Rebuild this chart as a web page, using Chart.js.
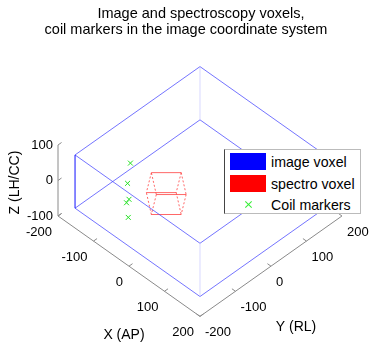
<!DOCTYPE html>
<html>
<head>
<meta charset="utf-8">
<script src="https://cdn.jsdelivr.net/npm/chart.js@4"></script>
<style>
  body { margin: 0; background: #fff; font-family: "Liberation Sans", Arial, sans-serif; color: #000; }
  #wrap { position: relative; width: 369px; height: 349px; overflow: hidden; }
  #plot { position: absolute; left: 0; top: 0; }
  .title { position: absolute; font-size: 14.5px; line-height: 16px; white-space: nowrap; transform: translateX(-50%); }
  #legend { position: absolute; left: 224px; top: 149px; width: 137px; height: 65px; background: #fff;
            border: 1px solid #bbb; border-left-color: #444; box-sizing: border-box; font-size: 14.2px; }
  #legend .row { position: absolute; left: 0; height: 18px; line-height: 18px; width: 100%; }
  #legend .swatch { position: absolute; left: 5px; top: 0; width: 36px; height: 17px; }
  #legend .label { position: absolute; left: 46px; top: 0; white-space: nowrap; }
  #legend .cross { position: absolute; left: 20px; top: 5px; width: 7px; height: 7px; }
  #legend .cross::before, #legend .cross::after { content: ""; position: absolute; left: -1px; top: 3px; width: 9px; height: 1px; background: #3e3; }
  #legend .cross::before { transform: rotate(45deg); }
  #legend .cross::after { transform: rotate(-45deg); }
</style>
</head>
<body>
<div id="wrap">
  <canvas id="plot" width="369" height="349"></canvas>
  <div class="title" style="left:201px; top:5px;">Image and spectroscopy voxels,</div>
  <div class="title" style="left:186px; top:21px;">coil markers in the image coordinate system</div>
  <div id="legend">
    <div class="row" style="top:3px;"><span class="swatch" style="background:#0000ff;"></span><span class="label">image voxel</span></div>
    <div class="row" style="top:25px;"><span class="swatch" style="background:#ff0000;"></span><span class="label">spectro voxel</span></div>
    <div class="row" style="top:46px;"><span class="cross"></span><span class="label">Coil markers</span></div>
  </div>
</div>
<script>
// axis limits and ticks
const xLim = [-200, 200];
const yLim = [-200, 200];
const zLim = [-100, 100];
const xTicks = [-200, -100, 0, 100, 200];
const yTicks = [-200, -100, 0, 100, 200];
const zTicks = [-100, 0, 100];

// image voxel corners: 0-3 lower face, 4-7 upper face
const imageX = [-176, 176, 176, -176, -176, 176, 176, -176];
const imageY = [-176, -176, 176, 176, -176, -176, 176, 176];
const imageZ = [-78, -78, -78, -78, 72, 72, 72, 72];

// spectro voxel corners, same ordering
const spectroX = [-66.5, -24.5, 12, -30, -62, -20, 16.5, -25.5];
const spectroY = [-70.5, -28.5, -51, -93, -89, -47, -69.5, -111.5];
const spectroZ = [25, 25, 5, 5, -15, -15, -35, -35];

// coil marker positions
const coilX = [-98, -102, -100, -103, -101];
const coilY = [-98, -102, -100, -104, -101];
const coilZ = [49, -8, -53, -62, -104];

// corner pairs making up a box
const boxEdges = [[0, 1], [1, 2], [2, 3], [3, 0], [4, 5], [5, 6], [6, 7], [7, 4], [0, 4], [1, 5], [2, 6], [3, 7]];

const viewAz = 45, viewEl = 45;
const rad = Math.PI / 180;

function project(x, y, z) {
  const a = viewAz * rad, e = viewEl * rad;
  return {
    x: x * Math.sin(a) + y * Math.cos(a),
    y: z * Math.cos(e) - (x * Math.cos(a) - y * Math.sin(a)) * Math.sin(e)
  };
}

function edgePoints(xs, ys, zs) {
  const pts = [];
  boxEdges.forEach(([a, b]) => {
    pts.push(project(xs[a], ys[a], zs[a]), project(xs[b], ys[b], zs[b]), { x: null, y: null });
  });
  return pts;
}

function segmentsOf(list) {
  const pts = [];
  list.forEach(([p, q]) => pts.push(project(...p), project(...q), { x: null, y: null }));
  return pts;
}

// plot box axes and their tick marks
const tickLen = 10;
const axisLines = segmentsOf([
  [[xLim[0], yLim[0], zLim[0]], [xLim[1], yLim[0], zLim[0]]],
  [[xLim[1], yLim[0], zLim[0]], [xLim[1], yLim[1], zLim[0]]],
  [[xLim[0], yLim[0], zLim[0]], [xLim[0], yLim[0], zLim[1]]]
]);
const tickMarks = segmentsOf([
  ...xTicks.map(t => [[t, yLim[0], zLim[0]], [t, yLim[0] + tickLen, zLim[0]]]),
  ...yTicks.map(t => [[xLim[1], t, zLim[0]], [xLim[1] - tickLen, t, zLim[0]]]),
  ...zTicks.map(t => [[xLim[0], yLim[0], t], [xLim[0], yLim[0] + tickLen, t]])
]);

const coilPoints = coilX.map((x, i) => project(x, coilY[i], coilZ[i]));

const frontEdge = boxEdges.findIndex(e => e[0] === 0 && e[1] === 4);
const steep = c => Math.abs(c.p1.y - c.p0.y) > Math.abs(c.p1.x - c.p0.x);

const axisText = {
  id: 'axisText',
  afterDatasetsDraw(chart) {
    const { ctx, scales: { x, y } } = chart;
    const at = (X, Y, Z) => {
      const p = project(X, Y, Z);
      return { x: x.getPixelForValue(p.x), y: y.getPixelForValue(p.y) };
    };
    ctx.save();
    ctx.fillStyle = '#000';
    ctx.textBaseline = 'middle';
    ctx.font = '13px "Liberation Sans", Arial, sans-serif';

    ctx.textAlign = 'right';
    xTicks.forEach(t => { const p = at(t, yLim[0], zLim[0]); ctx.fillText(String(t), p.x - 6, p.y + 16.5); });
    zTicks.forEach(t => { const p = at(xLim[0], yLim[0], t); ctx.fillText(String(t), p.x - 5, p.y); });
    ctx.textAlign = 'left';
    yTicks.forEach(t => { const p = at(xLim[1], t, zLim[0]); ctx.fillText(String(t), p.x + 5, p.y + 16.5); });

    ctx.font = '14px "Liberation Sans", Arial, sans-serif';
    ctx.textAlign = 'center';
    let p = at(0, yLim[0], zLim[0]);
    ctx.fillText('X (AP)', p.x - 5, p.y + 68.5);
    p = at(xLim[1], 0, zLim[0]);
    ctx.fillText('Y (RL)', p.x + 25, p.y + 60.5);
    p = at(xLim[0], yLim[0], 0);
    ctx.translate(p.x - 43, p.y + 2);
    ctx.rotate(-Math.PI / 2);
    ctx.fillText('Z (LH/CC)', 0, 0);
    ctx.restore();
  }
};

new Chart(document.getElementById('plot'), {
  type: 'scatter',
  data: {
    datasets: [
      {
        label: 'axes',
        data: axisLines,
        showLine: true,
        borderColor: '#8a8a8a',
        borderWidth: 1,
        pointRadius: 0
      },
      {
        label: 'ticks',
        data: tickMarks,
        showLine: true,
        borderColor: '#8a8a8a',
        borderWidth: 1,
        pointRadius: 0
      },
      {
        label: 'image voxel',
        data: edgePoints(imageX, imageY, imageZ),
        showLine: true,
        borderColor: 'rgba(70, 70, 255, 0.75)',
        borderWidth: 1,
        pointRadius: 0,
        segment: {
          borderColor: c => {
            const edge = Math.floor(c.p0DataIndex / 3);
            if (edge < 8) return undefined;
            return edge === frontEdge ? '#1010ff' : 'rgba(190, 190, 255, 0.6)';
          }
        }
      },
      {
        label: 'spectro voxel',
        data: edgePoints(spectroX, spectroY, spectroZ),
        showLine: true,
        borderColor: 'rgba(255, 40, 40, 0.7)',
        borderWidth: 1,
        pointRadius: 0,
        segment: {
          borderDash: c => steep(c) ? [2, 2] : undefined
        }
      },
      {
        label: 'Coil markers',
        data: coilPoints,
        pointStyle: 'crossRot',
        pointRadius: 3.5,
        borderColor: '#22e022',
        backgroundColor: '#22e022',
        borderWidth: 1
      }
    ]
  },
  options: {
    responsive: false,
    animation: false,
    events: [],
    layout: { padding: 0, autoPadding: false },
    plugins: { legend: { display: false }, title: { display: false }, tooltip: { enabled: false } },
    scales: {
      x: { type: 'linear', display: false, min: -398.4, max: 336.7 },
      y: { type: 'linear', display: false, min: -335.7, max: 359.6 }
    }
  },
  plugins: [axisText]
});
</script>
</body>
</html>
